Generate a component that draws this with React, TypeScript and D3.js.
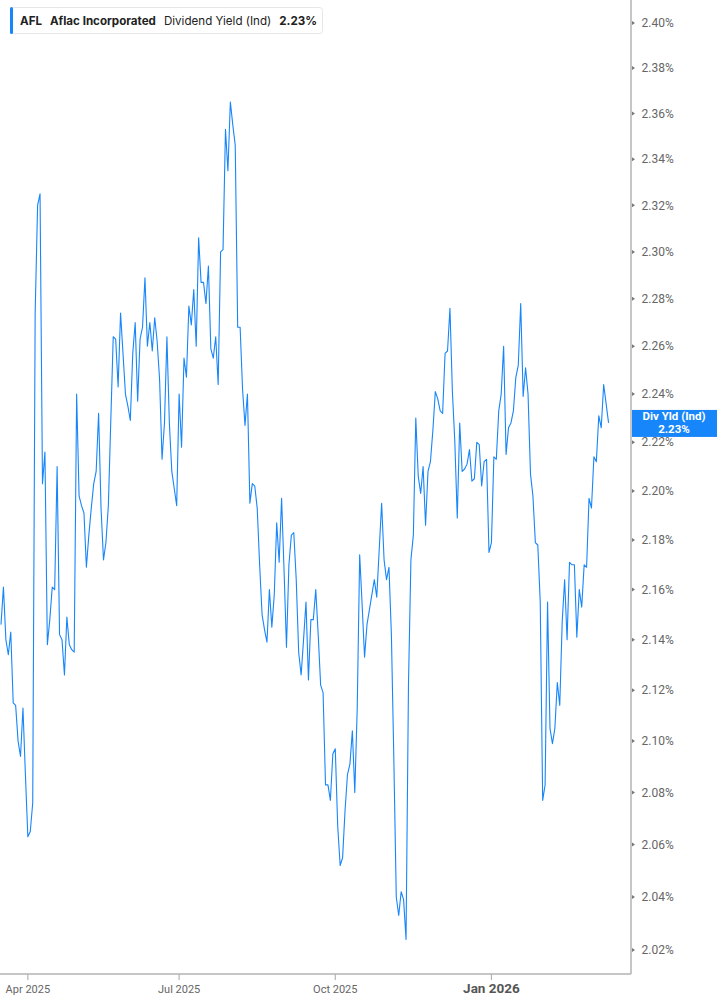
import React, { useEffect, useRef } from 'react';
import * as d3 from 'd3';

// trading days start here; weekends and these market holidays are skipped
const START_DATE = '2025-03-17';
const HOLIDAYS = [
  '2025-04-18', '2025-05-26', '2025-06-19', '2025-07-04', '2025-09-01',
  '2025-11-27', '2025-12-25', '2026-01-01', '2026-01-19', '2026-02-16',
];

// AFL dividend yield (ind), %, one value per trading day
const YIELDS = [
  2.146, 2.161, 2.140, 2.134, 2.143, 2.115, 2.114, 2.100, 2.094, 2.113,
  2.087, 2.063, 2.065, 2.076, 2.274, 2.320, 2.325, 2.203, 2.216, 2.138,
  2.148, 2.161, 2.160, 2.210, 2.142, 2.140, 2.126, 2.149, 2.138, 2.136,
  2.135, 2.240, 2.198, 2.194, 2.191, 2.169, 2.182, 2.193, 2.203, 2.208,
  2.232, 2.193, 2.172, 2.179, 2.194, 2.229, 2.264, 2.263, 2.243, 2.274,
  2.257, 2.240, 2.235, 2.229, 2.257, 2.270, 2.237, 2.263, 2.268, 2.289,
  2.260, 2.270, 2.258, 2.272, 2.262, 2.246, 2.213, 2.228, 2.264, 2.228,
  2.208, 2.201, 2.194, 2.240, 2.218, 2.255, 2.247, 2.277, 2.269, 2.284,
  2.260, 2.306, 2.287, 2.287, 2.278, 2.294, 2.259, 2.255, 2.264, 2.244,
  2.300, 2.301, 2.353, 2.335, 2.365, 2.355, 2.346, 2.268, 2.268, 2.242,
  2.227, 2.240, 2.195, 2.203, 2.202, 2.193, 2.170, 2.150, 2.144, 2.139,
  2.160, 2.145, 2.158, 2.187, 2.171, 2.197, 2.168, 2.137, 2.170, 2.182,
  2.183, 2.164, 2.135, 2.126, 2.140, 2.155, 2.124, 2.148, 2.148, 2.160,
  2.142, 2.122, 2.119, 2.083, 2.083, 2.077, 2.095, 2.097, 2.067, 2.052,
  2.055, 2.073, 2.087, 2.091, 2.104, 2.080, 2.113, 2.174, 2.154, 2.133,
  2.146, 2.152, 2.158, 2.164, 2.157, 2.176, 2.195, 2.172, 2.164, 2.169,
  2.142, 2.093, 2.040, 2.033, 2.042, 2.039, 2.024, 2.122, 2.172, 2.182,
  2.230, 2.206, 2.199, 2.210, 2.186, 2.208, 2.212, 2.225, 2.241, 2.238,
  2.233, 2.232, 2.257, 2.258, 2.276, 2.241, 2.220, 2.189, 2.228, 2.208,
  2.209, 2.211, 2.217, 2.204, 2.205, 2.220, 2.219, 2.202, 2.212, 2.213,
  2.175, 2.179, 2.214, 2.213, 2.233, 2.240, 2.260, 2.215, 2.226, 2.228,
  2.233, 2.247, 2.252, 2.278, 2.239, 2.251, 2.240, 2.207, 2.198, 2.179,
  2.178, 2.155, 2.077, 2.083, 2.155, 2.105, 2.099, 2.105, 2.123, 2.114,
  2.147, 2.164, 2.140, 2.171, 2.170, 2.170, 2.141, 2.160, 2.153, 2.170,
  2.169, 2.197, 2.193, 2.214, 2.212, 2.231, 2.226, 2.244, 2.236, 2.228,
];

const Y_TICKS = [
  2.02, 2.04, 2.06, 2.08, 2.10, 2.12, 2.14, 2.16, 2.18, 2.20,
  2.22, 2.24, 2.26, 2.28, 2.30, 2.32, 2.34, 2.36, 2.38, 2.40,
];
const X_TICK_MONTHS = ['2025-04', '2025-07', '2025-10', '2026-01'];
const X_TICK_LABELS = ['Apr 2025', 'Jul 2025', 'Oct 2025', 'Jan 2026'];

const LEGEND = { ticker: 'AFL', name: 'Aflac Incorporated', metric: 'Dividend Yield (Ind)' };
const TAG = 'Div Yld (Ind)';

const BLUE = '#1786fa';

function tradingDays(n: number): Date[] {
  const fmt = d3.utcFormat('%Y-%m-%d');
  const out: Date[] = [];
  let d = new Date(START_DATE + 'T00:00:00Z');
  while (out.length < n) {
    const wd = d.getUTCDay();
    if (wd !== 0 && wd !== 6 && !HOLIDAYS.includes(fmt(d))) out.push(d);
    d = d3.utcDay.offset(d, 1);
  }
  return out;
}

export default function App() {
  const svgRef = useRef<SVGSVGElement>(null);

  useEffect(() => {
    if (!svgRef.current) return;
    const width = 717;
    const height = 1005;
    const axisX = 631;
    const axisY = 974;

    const svg = d3.select(svgRef.current);
    svg.selectAll('*').remove();
    svg.attr('width', width).attr('height', height);

    const dates = tradingDays(YIELDS.length);
    const data = YIELDS.map((v, i) => ({ i, date: dates[i], v }));

    const x = d3.scaleLinear().domain([0, 258.2]).range([1, axisX]);
    const y = d3.scaleLog().domain([2.011, 2.4103]).range([axisY, 0]);

    svg.append('rect').attr('width', width).attr('height', height).attr('fill', '#fff');

    // line
    const line = d3
      .line<{ i: number; v: number }>()
      .x((d) => x(d.i))
      .y((d) => y(d.v));
    svg
      .append('path')
      .datum(data)
      .attr('d', line)
      .attr('fill', 'none')
      .attr('stroke', BLUE)
      .attr('stroke-width', 1.1)
      .attr('stroke-linejoin', 'round');

    // axes
    svg
      .append('line')
      .attr('x1', axisX).attr('x2', axisX)
      .attr('y1', 0).attr('y2', axisY)
      .attr('stroke', '#b3b3b3').attr('stroke-width', 1.5);
    svg
      .append('line')
      .attr('x1', 0).attr('x2', axisX)
      .attr('y1', axisY).attr('y2', axisY)
      .attr('stroke', '#b3b3b3').attr('stroke-width', 1.5);

    // y ticks
    const yt = svg.append('g').selectAll('g').data(Y_TICKS).enter().append('g')
      .attr('transform', (d) => `translate(${axisX},${y(d)})`);
    yt.append('path').attr('d', 'M1,-2L4,0L1,2Z').attr('fill', '#777');
    yt.append('text')
      .attr('x', 10.5)
      .attr('dy', '0.35em')
      .attr('font-family', 'Roboto, Arial, sans-serif')
      .attr('font-size', 12)
      .attr('fill', '#666')
      .text((d) => `${d.toFixed(2)}%`);

    // x ticks at first trading day of month
    const monthFmt = d3.utcFormat('%Y-%m');
    const xt = X_TICK_MONTHS.map((m, k) => ({
      label: X_TICK_LABELS[k],
      i: data.find((d) => monthFmt(d.date) === m)!.i,
      major: m.endsWith('-01'),
    }));
    const xg = svg.append('g').selectAll('g').data(xt).enter().append('g')
      .attr('transform', (d) => `translate(${x(d.i)},${axisY})`);
    xg.append('line').attr('y1', 0).attr('y2', 6).attr('stroke', '#b3b3b3').attr('stroke-width', 1.2);
    xg.append('text')
      .attr('y', 19)
      .attr('text-anchor', 'middle')
      .attr('font-family', 'Roboto, Arial, sans-serif')
      .attr('font-size', (d) => (d.major ? 13.5 : 11))
      .attr('font-weight', (d) => (d.major ? 700 : 400))
      .attr('fill', (d) => (d.major ? '#555' : '#666'))
      .text((d) => d.label);

    // last value tag
    const last = data[data.length - 1];
    const ty = y(last.v) + 1;
    svg.append('rect')
      .attr('x', axisX + 1).attr('y', ty - 14).attr('width', width - axisX).attr('height', 27)
      .attr('fill', BLUE);
    svg.append('text')
      .attr('x', 674).attr('y', ty - 3.5)
      .attr('text-anchor', 'middle')
      .attr('font-family', 'Roboto, Arial, sans-serif')
      .attr('font-size', 11.5).attr('font-weight', 700).attr('fill', '#fff')
      .text(TAG);
    svg.append('text')
      .attr('x', 674).attr('y', ty + 9.5)
      .attr('text-anchor', 'middle')
      .attr('font-family', 'Roboto, Arial, sans-serif')
      .attr('font-size', 11.5).attr('font-weight', 700).attr('fill', '#fff')
      .text(`${last.v.toFixed(2)}%`);

    // legend
    const lg = svg.append('g').attr('transform', 'translate(10,7)');
    lg.append('rect')
      .attr('x', 0.5).attr('y', 0.5).attr('width', 312).attr('height', 26).attr('rx', 3)
      .attr('fill', '#fff').attr('stroke', '#e6e6e6');
    lg.append('rect').attr('x', 0).attr('y', 0).attr('width', 3).attr('height', 27).attr('rx', 1.5).attr('fill', BLUE);
    const lt = lg.append('text')
      .attr('x', 10).attr('y', 17.5)
      .attr('font-family', 'Inter, Roboto, Arial, sans-serif')
      .attr('font-size', 11.6).attr('fill', '#222');
    lt.append('tspan').attr('font-weight', 700).text(LEGEND.ticker);
    lt.append('tspan').attr('dx', 8).attr('font-weight', 700).text(LEGEND.name);
    lt.append('tspan').attr('dx', 8).attr('font-weight', 400).text(LEGEND.metric);
    lt.append('tspan').attr('dx', 8).attr('font-weight', 700).text(`${last.v.toFixed(2)}%`);
  }, []);

  return (
    <svg
      ref={svgRef}
      style={{ position: 'absolute', left: 0, top: 0, display: 'block' }}
    />
  );
}
